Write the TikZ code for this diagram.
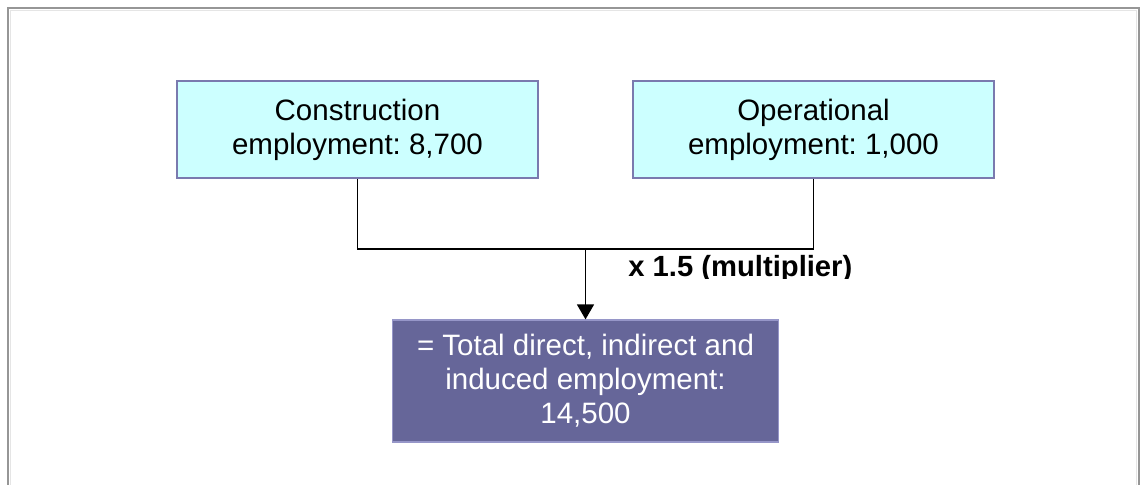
\documentclass[tikz,border=0pt]{standalone}
\usepackage{fontspec}
\setmainfont{Liberation Sans}
\usepackage{tikz}
\usetikzlibrary{arrows.meta,positioning}
\definecolor{sourcefill}{RGB}{204,255,255}
\definecolor{sourcedraw}{RGB}{122,122,175}
\definecolor{totalfill}{RGB}{102,102,153}
\definecolor{totaldraw}{RGB}{150,150,200}
\definecolor{framecolor}{RGB}{150,150,150}
\frenchspacing

\begin{document}
\begin{tikzpicture}[
    x=0.5pt, y=-0.5pt,
    % Estilos
    source/.style={
        rectangle,
        draw=sourcedraw,
        fill=sourcefill,
        line width=1pt,
        minimum width=180.5pt,
        minimum height=48.5pt,
        align=center,
        font=\fontsize{14.75}{17}\selectfont,
        text=black
    },
    total/.style={
        rectangle,
        draw=totaldraw,
        fill=totalfill,
        line width=0.6pt,
        minimum width=193pt,
        minimum height=61pt,
        align=center,
        font=\fontsize{14.75}{17}\selectfont,
        text=white
    },
    link/.style={draw=black, line width=0.75pt},
    arrow/.style={-{Triangle[length=7.5pt,width=8.5pt]}, draw=black, line width=0.75pt},
    factorlabel/.style={font=\fontsize{14.6}{17}\selectfont\bfseries, anchor=base west, inner sep=0pt}
]
\useasboundingbox (0,0) rectangle (1141,485);

% ============================================================================
% Moldura
% ============================================================================
\draw[framecolor, line width=1pt] (8,485) -- (8,8) -- (1138.5,8) -- (1138.5,485);
\draw[gray!20, line width=0.5pt] (10.5,485) -- (10.5,10.5) -- (1136,10.5) -- (1136,485);

% ============================================================================
% Empregos
% ============================================================================
\node[source] (constr) at (357.5,129.5) {Construction\\employment: 8,700};
\node[source] (oper) at (813.5,129.5) {Operational\\employment: 1,000};

\node[total] (result) at (585.5,381) {= Total direct, indirect and\\induced employment:\\14,500};

% ============================================================================
% Setas
% ============================================================================
\coordinate (join) at (585.5,249);
\draw[link] (constr.south) |- (join) -| (oper.south);
\draw[arrow] (join) -- (result.north);

% Multiplicador (cortado embaixo)
\begin{scope}
    \clip (600,240) rectangle (900,278.5);
    \node[factorlabel] (factor) at (628,277) {x 1.5 (multiplier)};
\end{scope}

\end{tikzpicture}
\end{document}
